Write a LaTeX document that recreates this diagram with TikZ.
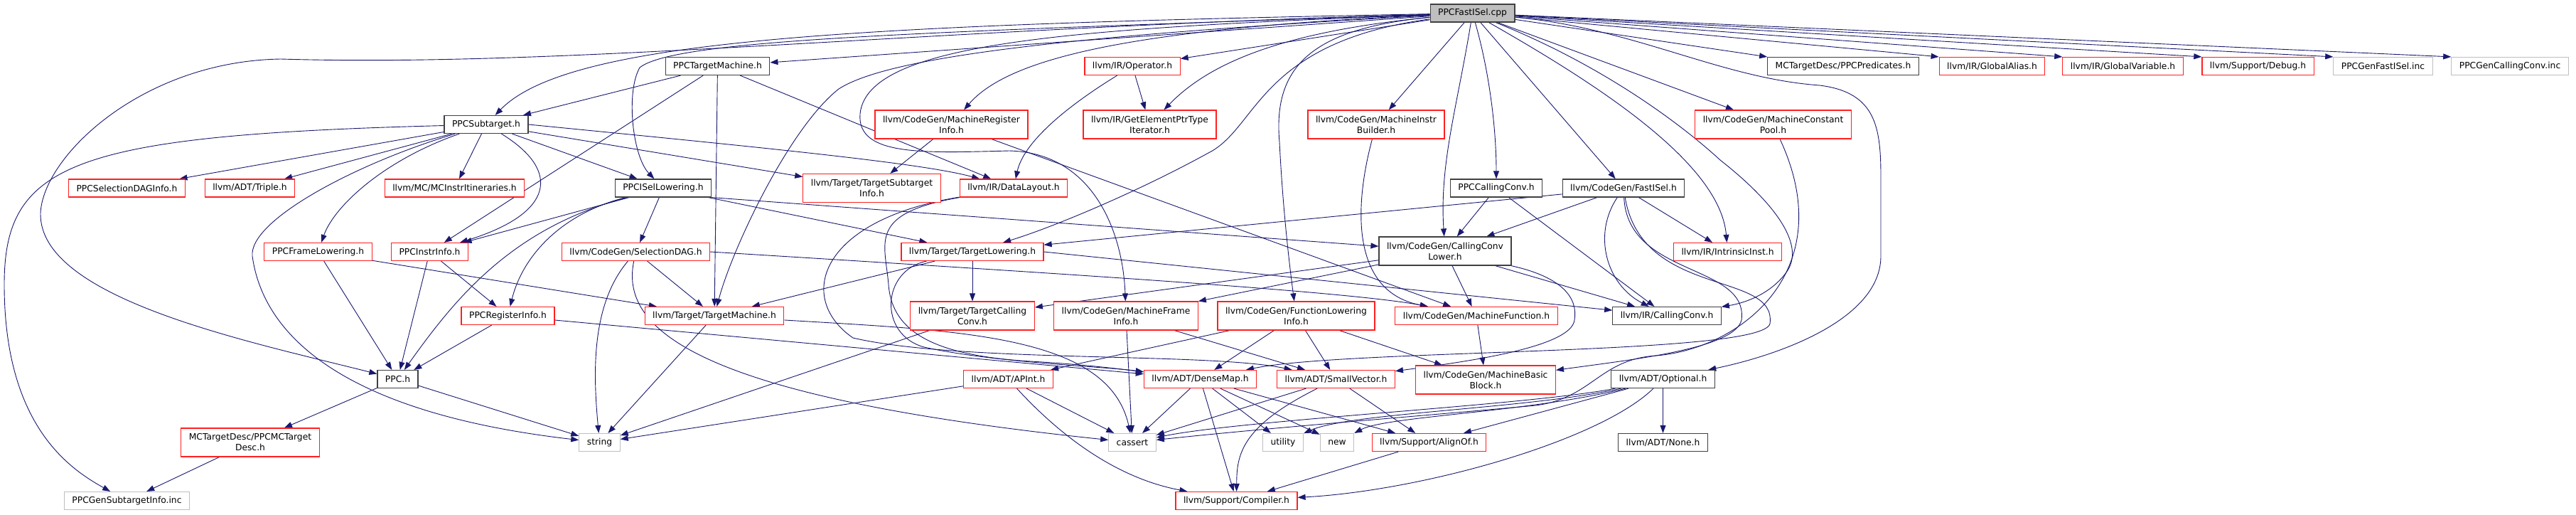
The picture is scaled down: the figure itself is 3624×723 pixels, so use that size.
\documentclass[tikz,border=0pt]{standalone}
\usepackage{fontspec}
\usetikzlibrary{arrows.meta, backgrounds}
\newfontfamily\dfont{DejaVu Sans}
\definecolor{edgeblue}{HTML}{191970}
\definecolor{hred}{HTML}{FF2020}
\definecolor{hblk}{HTML}{404040}
\definecolor{hgry}{HTML}{BFBFBF}
\definecolor{rootfill}{HTML}{BFBFBF}

\begin{document}
\begin{tikzpicture}[x=1pt, y=-1pt,
  file/.style={draw, line width=1.2pt, fill=white, minimum height=25pt,
               inner xsep=11pt, inner ysep=0pt, align=center,
               font=\dfont\fontsize{12.3}{15}\selectfont},
  hdrred/.style={file, draw=hred},
  hdrblk/.style={file, draw=hblk},
  hdrgry/.style={file, draw=hgry},
  two/.style={minimum height=40pt},
  incl/.style={draw=edgeblue, line width=0.9pt, -{Triangle[length=11pt, width=8pt]}}
]
\useasboundingbox (0,0) rectangle (3624,723);

% row 0
\node[hdrblk, fill=rootfill] (root) at (2071.5,18.5) {PPCFastISel.cpp};
% row 1
\node[hdrblk] (tm) at (1009.5,93) {PPCTargetMachine.h};
\node[hdrred] (operator) at (1593,93) {llvm/IR/Operator.h};
\node[hdrblk] (pred) at (2593,93) {MCTargetDesc/PPCPredicates.h};
\node[hdrred] (galias) at (2802.5,93) {llvm/IR/GlobalAlias.h};
\node[hdrred] (gvar) at (2986.5,93) {llvm/IR/GlobalVariable.h};
\node[hdrred] (debug) at (3176.5,93) {llvm/Support/Debug.h};
\node[hdrgry] (genfast) at (3352.5,93) {PPCGenFastISel.inc};
\node[hdrgry] (gencc) at (3531,93) {PPCGenCallingConv.inc};
% row 2
\node[hdrblk] (subtarget) at (684,175) {PPCSubtarget.h};
\node[hdrred, two] (mri) at (1338.5,175) {llvm/CodeGen/MachineRegister\\Info.h};
\node[hdrred, two] (gep) at (1617.5,175) {llvm/IR/GetElementPtrType\\Iterator.h};
\node[hdrred, two] (mib) at (1936,175) {llvm/CodeGen/MachineInstr\\Builder.h};
\node[hdrred, two] (mcp) at (2494.5,175) {llvm/CodeGen/MachineConstant\\Pool.h};
% row 3
\node[hdrred] (seldaginfo) at (178.5,264.5) {PPCSelectionDAGInfo.h};
\node[hdrred] (triple) at (351.5,264.5) {llvm/ADT/Triple.h};
\node[hdrred] (itin) at (639.5,264.5) {llvm/MC/MCInstrItineraries.h};
\node[hdrblk] (isel) at (933,264.5) {PPCISelLowering.h};
\node[hdrred, two] (tsi) at (1226.5,264.5) {llvm/Target/TargetSubtarget\\Info.h};
\node[hdrred] (dl) at (1426,264.5) {llvm/IR/DataLayout.h};
\node[hdrblk] (ppccc) at (2105,264.5) {PPCCallingConv.h};
\node[hdrblk] (fastisel) at (2284,264.5) {llvm/CodeGen/FastISel.h};
% row 4
\node[hdrred] (framelow) at (447.5,354) {PPCFrameLowering.h};
\node[hdrred] (instrinfo) at (604.5,354) {PPCInstrInfo.h};
\node[hdrred] (seldag) at (894.5,354) {llvm/CodeGen/SelectionDAG.h};
\node[hdrred] (tlow) at (1368,354) {llvm/Target/TargetLowering.h};
\node[hdrblk, two] (ccl) at (2033,353) {llvm/CodeGen/CallingConv\\Lower.h};
\node[hdrred] (intrinsic) at (2430.5,354) {llvm/IR/IntrinsicInst.h};
% row 5
\node[hdrred] (reginfo) at (714.5,444) {PPCRegisterInfo.h};
\node[hdrred] (ttm) at (1005,444) {llvm/Target/TargetMachine.h};
\node[hdrred, two] (tcc) at (1368,444) {llvm/Target/TargetCalling\\Conv.h};
\node[hdrred, two] (mfi) at (1584,444) {llvm/CodeGen/MachineFrame\\Info.h};
\node[hdrred, two] (flinfo) at (1823.5,444) {llvm/CodeGen/FunctionLowering\\Info.h};
\node[hdrred] (mf) at (2077,444) {llvm/CodeGen/MachineFunction.h};
\node[hdrblk] (irccv) at (2345,444) {llvm/IR/CallingConv.h};
% row 6
\node[hdrblk] (ppch) at (559.5,533) {PPC.h};
\node[hdrred] (apint) at (1418.5,533) {llvm/ADT/APInt.h};
\node[hdrred] (densemap) at (1688.5,533) {llvm/ADT/DenseMap.h};
\node[hdrred] (smallvec) at (1879.5,533) {llvm/ADT/SmallVector.h};
\node[hdrred, two] (mbb) at (2090,534) {llvm/CodeGen/MachineBasic\\Block.h};
\node[hdrblk] (optional) at (2339.5,533) {llvm/ADT/Optional.h};
% row 7
\node[hdrred, two] (mctd) at (352,622) {MCTargetDesc/PPCMCTarget\\Desc.h};
\node[hdrgry] (string) at (843.5,622) {string};
\node[hdrgry] (cassert) at (1593,622) {cassert};
\node[hdrgry] (utility) at (1805,622) {utility};
\node[hdrgry] (new) at (1881,622) {new};
\node[hdrred] (alignof) at (2010.5,622) {llvm/Support/AlignOf.h};
\node[hdrblk] (none) at (2339.5,622) {llvm/ADT/None.h};
% row 8
\node[hdrgry] (gensti) at (178.5,704) {PPCGenSubtargetInfo.inc};
\node[hdrred] (compiler) at (1739.5,704) {llvm/Support/Compiler.h};

\begin{scope}[on background layer]
\fill[white] (0,0) rectangle (3624,723);
% from the source file
\draw[incl] (root) .. controls (1300,40) and (800,95) .. (395,83) .. controls (200,86) and (60,220) .. (57,300) .. controls (55,420) and (350,480) .. (ppch);
\draw[incl] (root) .. controls (1200,35) and (800,55) .. (subtarget);
\draw[incl] (root) -- (tm);
\draw[incl] (root) .. controls (1300,45) and (950,55) .. (900,95) .. controls (880,130) and (890,220) .. (isel);
\draw[incl] (root) .. controls (1500,50) and (1250,80) .. (1180,125) .. controls (1110,180) and (1030,350) .. (ttm);
\draw[incl] (root) .. controls (1600,40) and (1420,80) .. (mri);
\draw[incl] (root) -- (operator);
\draw[incl] (root) .. controls (1800,45) and (1700,90) .. (gep);
\draw[incl] (root) .. controls (1500,40) and (1220,60) .. (1210,160) .. controls (1205,220) and (1300,215) .. (1420,212) .. controls (1540,215) and (1580,330) .. (mfi);
\draw[incl] (root) .. controls (1770,60) and (1770,180) .. (1700,215) .. controls (1600,270) and (1480,320) .. (tlow);
\draw[incl] (root) .. controls (1850,40) and (1790,90) .. (1800,200) .. controls (1805,300) and (1815,380) .. (flinfo);
\draw[incl] (root) -- (mib);
\draw[incl] (root) .. controls (2050,150) and (2025,230) .. (ccl);
\draw[incl] (root) .. controls (2095,100) and (2105,180) .. (ppccc);
\draw[incl] (root) -- (fastisel);
\draw[incl] (root) .. controls (2250,120) and (2420,230) .. (intrinsic);
\draw[incl] (root) .. controls (2250,90) and (2360,170) .. (2420,225) .. controls (2490,280) and (2540,340) .. (2515,380) .. controls (2495,410) and (2460,425) .. (irccv);
\draw[incl] (root) -- (mcp);
\draw[incl] (root) .. controls (2300,40) and (2420,110) .. (2560,120) .. controls (2640,130) and (2646,180) .. (2646,250) -- (2646,360) .. controls (2646,450) and (2500,500) .. (optional);
\draw[incl] (root) -- (pred.north west);
\draw[incl] (root) -- (galias.north west);
\draw[incl] (root) -- (gvar.north west);
\draw[incl] (root) -- (debug.north west);
\draw[incl] (root) -- (genfast.north west);
\draw[incl] (root) -- (gencc.north west);
% PPC headers
\draw[incl] (tm) -- (subtarget);
\draw[incl] (tm) -- (instrinfo);
\draw[incl] (tm) -- (ttm);
\draw[incl] (tm) -- (dl);
\draw[incl] (subtarget) .. controls (100,190) and (6,230) .. (6,400) .. controls (6,600) and (100,660) .. (gensti);
\draw[incl] (subtarget) -- (seldaginfo);
\draw[incl] (subtarget) -- (triple);
\draw[incl] (subtarget) -- (itin);
\draw[incl] (subtarget) .. controls (540,225) and (470,290) .. (framelow);
\draw[incl] (subtarget) .. controls (790,240) and (780,300) .. (instrinfo);
\draw[incl] (subtarget) -- (isel);
\draw[incl] (subtarget) -- (tsi);
\draw[incl] (subtarget.east) .. controls (1100,210) and (1300,230) .. (dl);
\draw[incl] (subtarget) .. controls (500,230) and (350,310) .. (355,360) .. controls (370,470) and (480,580) .. (string);
\draw[incl] (isel) -- (instrinfo);
\draw[incl] (isel) .. controls (790,300) and (735,360) .. (reginfo);
\draw[incl] (isel) .. controls (720,320) and (640,420) .. (ppch);
\draw[incl] (isel) -- (seldag);
\draw[incl] (isel) -- (tlow);
\draw[incl] (isel.south east) -- (ccl);
\draw[incl] (framelow) -- (ppch);
\draw[incl] (framelow) -- (ttm);
\draw[incl] (instrinfo) -- (ppch);
\draw[incl] (instrinfo) -- (reginfo);
\draw[incl] (reginfo) -- (ppch);
\draw[incl] (reginfo) -- (densemap);
\draw[incl] (ppch) -- (mctd);
\draw[incl] (ppch) -- (string);
\draw[incl] (mctd) -- (gensti);
\draw[incl] (ppccc) -- (ccl);
\draw[incl] (ppccc) -- (irccv);
% llvm headers
\draw[incl] (operator) -- (gep);
\draw[incl] (operator) .. controls (1500,150) and (1440,200) .. (dl);
\draw[incl] (mri) -- (tsi);
\draw[incl] (mri) -- (mf);
\draw[incl] (mib) .. controls (1905,290) and (1900,410) .. (mf);
\draw[incl] (fastisel) -- (tlow);
\draw[incl] (fastisel) -- (ccl);
\draw[incl] (fastisel) .. controls (2240,330) and (2260,400) .. (irccv);
\draw[incl] (fastisel) .. controls (2290,390) and (2460,370) .. (2450,450) .. controls (2440,490) and (2300,505) .. (mbb);
\draw[incl] (fastisel) .. controls (2310,420) and (2500,380) .. (2490,455) .. controls (2480,500) and (1900,490) .. (densemap);
\draw[incl] (fastisel) -- (intrinsic);
\draw[incl] (ccl) -- (tcc);
\draw[incl] (ccl) -- (mfi);
\draw[incl] (ccl) -- (mf);
\draw[incl] (ccl) -- (irccv);
\draw[incl] (ccl) .. controls (2200,390) and (2220,420) .. (2215,450) .. controls (2210,490) and (2050,510) .. (smallvec);
\draw[incl] (seldag) .. controls (830,430) and (835,530) .. (string);
\draw[incl] (seldag) -- (ttm);
\draw[incl] (seldag) .. controls (870,470) and (1000,560) .. (cassert);
\draw[incl] (seldag.east) .. controls (1500,385) and (1900,410) .. (mf);
\draw[incl] (tlow) -- (tcc);
\draw[incl] (tlow) -- (ttm);
\draw[incl] (tlow.east) -- (irccv);
\draw[incl] (tlow) .. controls (1240,380) and (1235,470) .. (1300,488) .. controls (1400,510) and (1550,515) .. (densemap);
\draw[incl] (dl) .. controls (1220,300) and (1245,340) .. (1250,400) .. controls (1255,470) and (1320,500) .. (1450,508) .. controls (1520,512) and (1570,518) .. (densemap);
\draw[incl] (dl) .. controls (1150,310) and (1120,420) .. (1200,475) .. controls (1350,510) and (1700,495) .. (smallvec);
\draw[incl] (ttm) -- (string);
\draw[incl] (ttm) .. controls (1350,465) and (1560,470) .. (cassert);
\draw[incl] (tcc) -- (string);
\draw[incl] (mfi) -- (cassert);
\draw[incl] (mfi) -- (smallvec);
\draw[incl] (flinfo) -- (apint);
\draw[incl] (flinfo) -- (densemap);
\draw[incl] (flinfo) -- (smallvec);
\draw[incl] (flinfo) -- (mbb);
\draw[incl] (mf) -- (mbb);
\draw[incl] (mcp) .. controls (2590,380) and (2450,490) .. (2330,500) .. controls (2250,505) and (2240,560) .. (2160,570) .. controls (2000,585) and (1800,600) .. (cassert);
\draw[incl] (apint) -- (string);
\draw[incl] (apint) -- (cassert);
\draw[incl] (apint) .. controls (1480,600) and (1560,670) .. (compiler);
\draw[incl] (densemap) -- (cassert);
\draw[incl] (densemap) -- (compiler);
\draw[incl] (densemap) -- (utility);
\draw[incl] (densemap) -- (new);
\draw[incl] (densemap) -- (alignof);
\draw[incl] (smallvec) -- (cassert);
\draw[incl] (smallvec) .. controls (1745,600) and (1740,640) .. (compiler);
\draw[incl] (smallvec) -- (alignof);
\draw[incl] (alignof) -- (compiler);
\draw[incl] (optional) -- (none);
\draw[incl] (optional) -- (alignof);
\draw[incl] (optional) .. controls (2250,620) and (2000,690) .. (compiler);
\draw[incl] (optional) .. controls (2150,570) and (1750,590) .. (cassert);
\draw[incl] (optional) .. controls (2150,575) and (1900,580) .. (utility);
\draw[incl] (optional) .. controls (2150,580) and (1950,585) .. (new);
\end{scope}
\end{tikzpicture}
\end{document}
